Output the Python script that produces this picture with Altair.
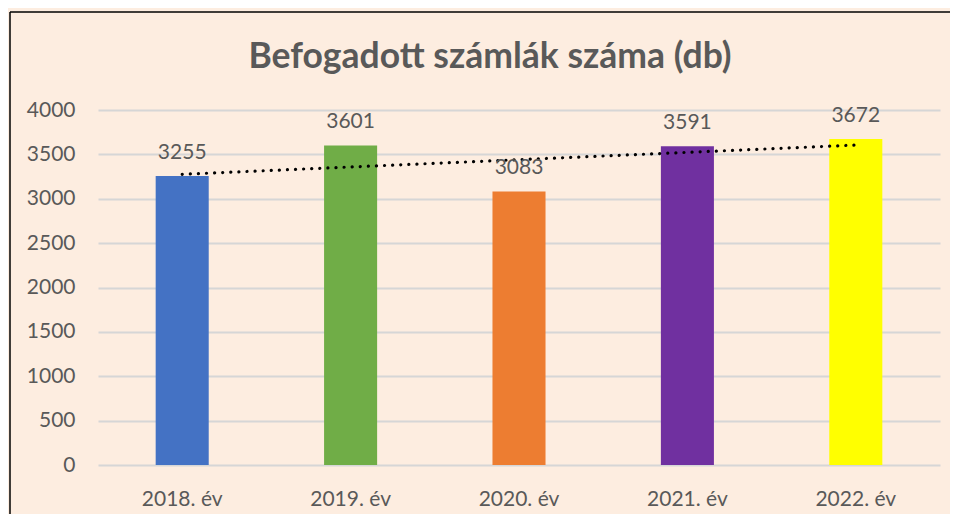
import json
import altair as alt
import pandas as pd

years = ["2018. év", "2019. év", "2020. év", "2021. év", "2022. év"]
values = [3255, 3601, 3083, 3591, 3672]
colors = ["#4472C4", "#70AD47", "#ED7D31", "#7030A0", "#FFFF00"]
idx = [1, 2, 3, 4, 5]
title_text = "Befogadott számlák száma (db)"

df = pd.DataFrame({"year": years, "value": values, "idx": idx})

FONT = "Lato"
TXT = "#595959"

xenc = alt.X("year:N", sort=years,
             scale=alt.Scale(paddingInner=0.685, paddingOuter=0.3425),
             axis=alt.Axis(title=None, labelAngle=0, domain=False, ticks=False,
                           labelPadding=40, labelBaseline="alphabetic",
                           labelFont=FONT, labelFontSize=21, labelColor=TXT))
yenc = alt.Y("value:Q", scale=alt.Scale(domain=[0, 4000]),
             axis=alt.Axis(title=None, values=list(range(0, 4001, 500)), format="d",
                           domain=False, ticks=False, labelPadding=23, labelFont=FONT,
                           labelFontSize=21, labelColor=TXT,
                           gridColor="#D6D6D6", gridWidth=1.8))

base = alt.Chart(df)

bars = base.mark_bar().encode(
    x=xenc, y=yenc,
    color=alt.Color("year:N", scale=alt.Scale(domain=years, range=colors), legend=None),
)

labels = base.mark_text(dy=-17, baseline="alphabetic", font=FONT, fontSize=21, color=TXT).encode(
    x=alt.X("year:N", sort=years), y="value:Q", text="value:Q"
)

trend = base.transform_regression("idx", "value", method="linear").transform_calculate(
    year=json.dumps(years, ensure_ascii=False) + "[round(datum.idx) - 1]"
).mark_line(color="black", strokeDash=[0.1, 8], strokeCap="round", strokeWidth=3.2).encode(
    x=alt.X("year:N", sort=years), y="value:Q"
)

one = alt.Chart(pd.DataFrame({"a": [0]}))
left_border = one.mark_rule(color="black", strokeWidth=1.5).encode(
    x=alt.value(-88), y=alt.value(-98), y2=alt.value(420))
top_border = one.mark_rule(color="black", strokeWidth=1.5).encode(
    x=alt.value(-88), x2=alt.value(900), y=alt.value(-98))
title = one.mark_text(font=FONT, fontSize=35.5, fontWeight="bold", color=TXT,
                      align="center", baseline="alphabetic").encode(
    x=alt.value(392), y=alt.value(-42), text=alt.value(title_text))

chart = alt.layer(bars, trend, labels, left_border, top_border, title).properties(
    width=842, height=355,
    background="#FDEDE0",
    padding={"left": 90, "top": 102, "right": 10, "bottom": 49},
    autosize=alt.AutoSizeParams(type="none"),
).configure_view(stroke=None)

chart.save("out.html", embed_options={"renderer": "svg", "actions": False})
